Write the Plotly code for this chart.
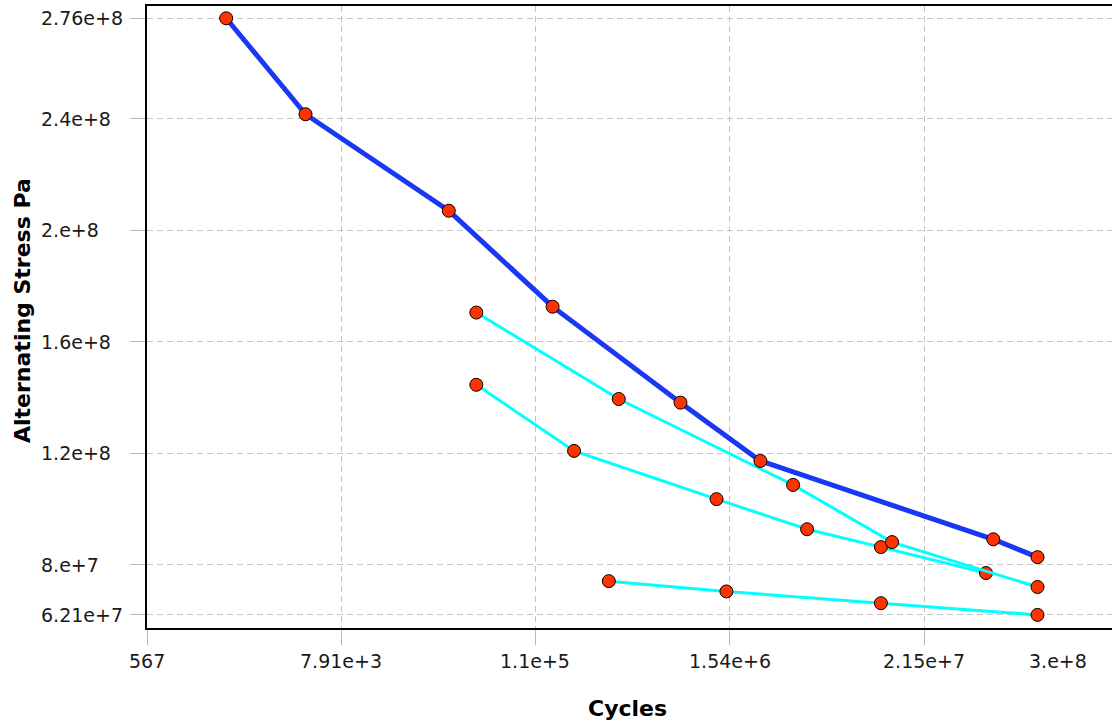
import math
import plotly.graph_objects as go

# ---- data (cycles, alternating stress in Pa) ----
blue_cycles = [1.66e3, 4.87e3, 3.40e4, 1.39e5, 7.88e5, 2.33e6, 5.49e7, 1.0e8]
blue_stress = [2.76e8, 2.416e8, 2.070e8, 1.726e8, 1.382e8, 1.173e8, 8.92e7, 8.28e7]

cyanA_cycles = [4.94e4, 3.41e5, 3.63e6, 1.39e7, 1.0e8]
cyanA_stress = [1.705e8, 1.395e8, 1.087e8, 8.82e7, 7.21e7]

cyanB_cycles = [4.94e4, 1.86e5, 1.285e6, 4.39e6, 1.195e7, 4.97e7]
cyanB_stress = [1.446e8, 1.209e8, 1.036e8, 9.28e7, 8.64e7, 7.71e7]

cyanC_cycles = [2.98e5, 1.47e6, 1.195e7, 1.0e8]
cyanC_stress = [7.42e7, 7.05e7, 6.63e7, 6.21e7]

x_tickvals = [567, 7.91e3, 1.1e5, 1.54e6, 2.15e7]
x_ticktext = ["567", "7.91e+3", "1.1e+5", "1.54e+6", "2.15e+7"]
x_last_label = "3.e+8"

y_tickvals = [6.21e7, 8e7, 1.2e8, 1.6e8, 2e8, 2.4e8, 2.76e8]
y_ticktext = ["6.21e+7", "8.e+7", "1.2e+8", "1.6e+8", "2.e+8", "2.4e+8", "2.76e+8"]

MARKER = dict(symbol="circle", size=13, color="#ff3300", line=dict(color="black", width=1))
CYAN = "#00ffff"
BLUE = "#1a38f2"

W, H = 1112, 727
L, T, B = 147, 6, 99
PW, PH = W - L, H - T - B

fig = go.Figure()
for cx, cy in [(cyanC_cycles, cyanC_stress), (cyanB_cycles, cyanB_stress), (cyanA_cycles, cyanA_stress)]:
    fig.add_trace(go.Scatter(x=cx, y=cy, mode="lines+markers",
                             line=dict(color=CYAN, width=3), marker=MARKER, showlegend=False))
fig.add_trace(go.Scatter(x=blue_cycles, y=blue_stress, mode="lines+markers",
                         line=dict(color=BLUE, width=5), marker=MARKER, showlegend=False))

xmin = math.log10(567)
xmax = xmin + (W - 147.5) / 169.65

TICKFONT = dict(family="DejaVu Sans", size=19, color="#1a1a1a")
TITLEFONT = dict(family="DejaVu Sans", size=22, color="black")

annotations = []
# y tick labels (left aligned, as in the reference)
for v, t in zip(y_tickvals, y_ticktext):
    annotations.append(dict(text=t, xref="paper", yref="y", x=0, xshift=-(L - 39),
                            y=v, xanchor="left", yanchor="middle", showarrow=False,
                            font=TICKFONT))
# x tick labels
for v, t in zip(x_tickvals, x_ticktext):
    annotations.append(dict(text=t, xref="x", yref="paper", x=math.log10(v), y=0, yshift=-33,
                            xanchor="center", yanchor="middle", showarrow=False, font=TICKFONT))
annotations.append(dict(text=x_last_label, xref="paper", yref="paper",
                        x=(1058 - L) / PW, y=0, yshift=-33, xanchor="center", yanchor="middle",
                        showarrow=False, font=TICKFONT))
annotations.append(dict(text="<b>Cycles</b>", xref="paper", yref="paper", x=(627 - L) / PW,
                        y=0, yshift=-(708 - (H - B)), showarrow=False, xanchor="center",
                        yanchor="middle", font=TITLEFONT))
annotations.append(dict(text="<b>Alternating Stress Pa</b>", xref="paper", yref="paper",
                        x=0, xshift=-(L - 22), y=(H - B - 311) / PH, showarrow=False,
                        textangle=-90, xanchor="center", yanchor="middle", font=TITLEFONT))

fig.update_layout(
    width=W, height=H,
    margin=dict(l=L, r=0, t=T, b=B, autoexpand=False),
    paper_bgcolor="white", plot_bgcolor="white",
    xaxis=dict(type="log", range=[xmin, xmax], tickmode="array",
               tickvals=x_tickvals, showticklabels=False, automargin=False,
               showgrid=True, gridcolor="#c4c4c4", griddash="6px,4px", gridwidth=1,
               showline=True, linecolor="black", linewidth=2, mirror=True,
               ticks="outside", ticklen=15, tickcolor="#b8b8b8", zeroline=False),
    yaxis=dict(range=[5.74e7, 2.804e8], tickmode="array",
               tickvals=y_tickvals, showticklabels=False, automargin=False,
               showgrid=True, gridcolor="#c4c4c4", griddash="6px,4px", gridwidth=1,
               showline=True, linecolor="black", linewidth=2, mirror=False,
               ticks="outside", ticklen=15, tickcolor="#b8b8b8", zeroline=False),
    annotations=annotations,
)

fig.write_html(
    "out.html",
    config={"displayModeBar": False},
    post_script="document.body.style.margin='0';document.body.style.overflow='hidden';",
)
